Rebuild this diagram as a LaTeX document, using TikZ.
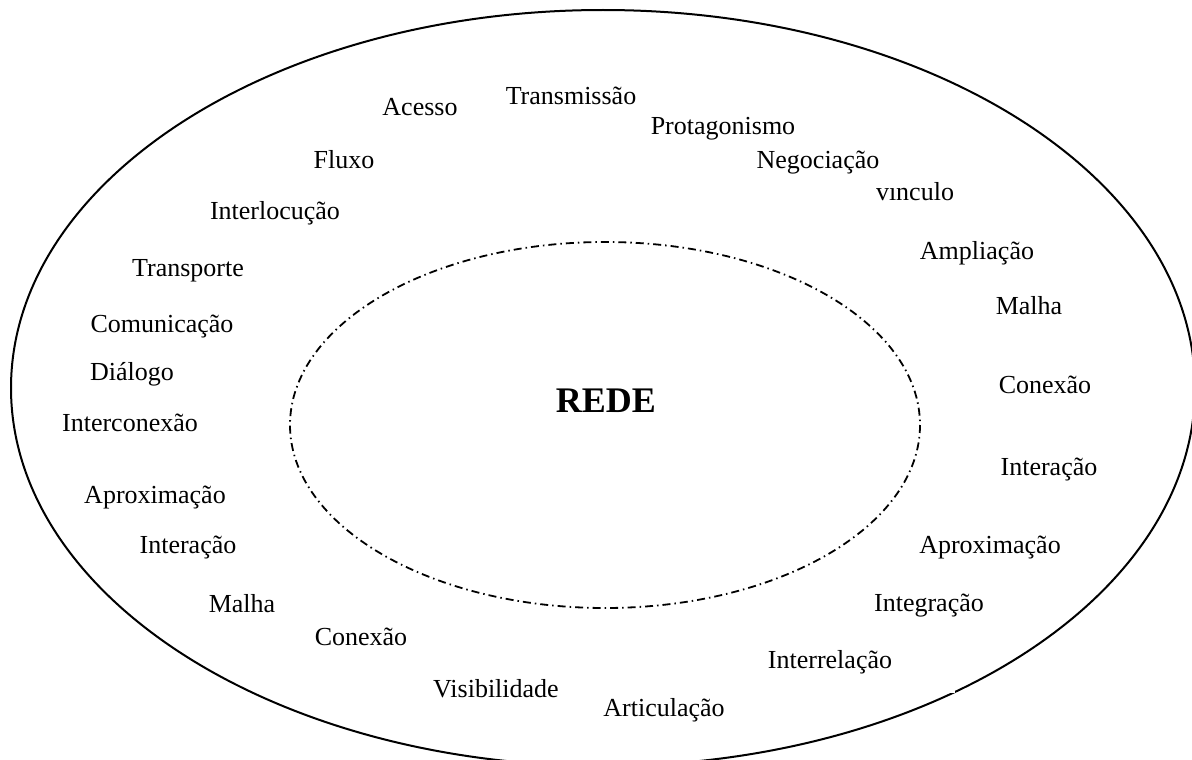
\documentclass[tikz,border=0pt]{standalone}
\usepackage{fontspec}
\setmainfont{Liberation Serif}
\begin{document}
\begin{tikzpicture}[x=1pt,y=-1pt,
  word/.style={anchor=base,inner sep=0pt,font=\fontsize{26}{30}\selectfont},
  ring/.style={line width=2pt},
  core/.style={line width=1.8pt,dash pattern=on 8pt off 4pt on 1.5pt off 4pt}]
\useasboundingbox (0,0) rectangle (1192,760);
\begin{scope}
\clip (0,0) rectangle (1192,760);
\draw[ring] (603,388) ellipse [x radius=592, y radius=378];
\end{scope}
\fill[white] (950,684) rectangle (955,693);
\draw[core] (605,425) ellipse [x radius=315, y radius=183];

\node[anchor=base,inner sep=0pt,font=\fontsize{36}{40}\selectfont\bfseries] (rede) at (606,412) {REDE};

\node[word] (w1) at (571,104) {Transmissão};
\node[word] (w2) at (420,115) {Acesso};
\node[word] (w3) at (723,135) {Protagonismo};
\node[word] (w4) at (344,168) {Fluxo};
\node[word] (w5) at (818,168) {Negociação};
\node[word] (w6) at (915,200) {vınculo};
\node[word] (w7) at (275,219) {Interlocução};
\node[word] (w8) at (977,259) {Ampliação};
\node[word] (w9) at (188,276) {Transporte};
\node[word] (w10) at (1029,314) {Malha};
\node[word] (w11) at (162,332) {Comunicação};
\node[word] (w12) at (132,380) {Diálogo};
\node[word] (w13) at (1045,393) {Conexão};
\node[word] (w14) at (130,431) {Interconexão};
\node[word] (w15) at (1049,475) {Interação};
\node[word] (w16) at (155,503) {Aproximação};
\node[word] (w17) at (188,553) {Interação};
\node[word] (w18) at (990,553) {Aproximação};
\node[word] (w19) at (242,612) {Malha};
\node[word] (w20) at (929,611) {Integração};
\node[word] (w21) at (361,645) {Conexão};
\node[word] (w22) at (830,668) {Interrelação};
\node[word] (w23) at (496,697) {Visibilidade};
\node[word] (w24) at (664,716) {Articulação};
\end{tikzpicture}
\end{document}
